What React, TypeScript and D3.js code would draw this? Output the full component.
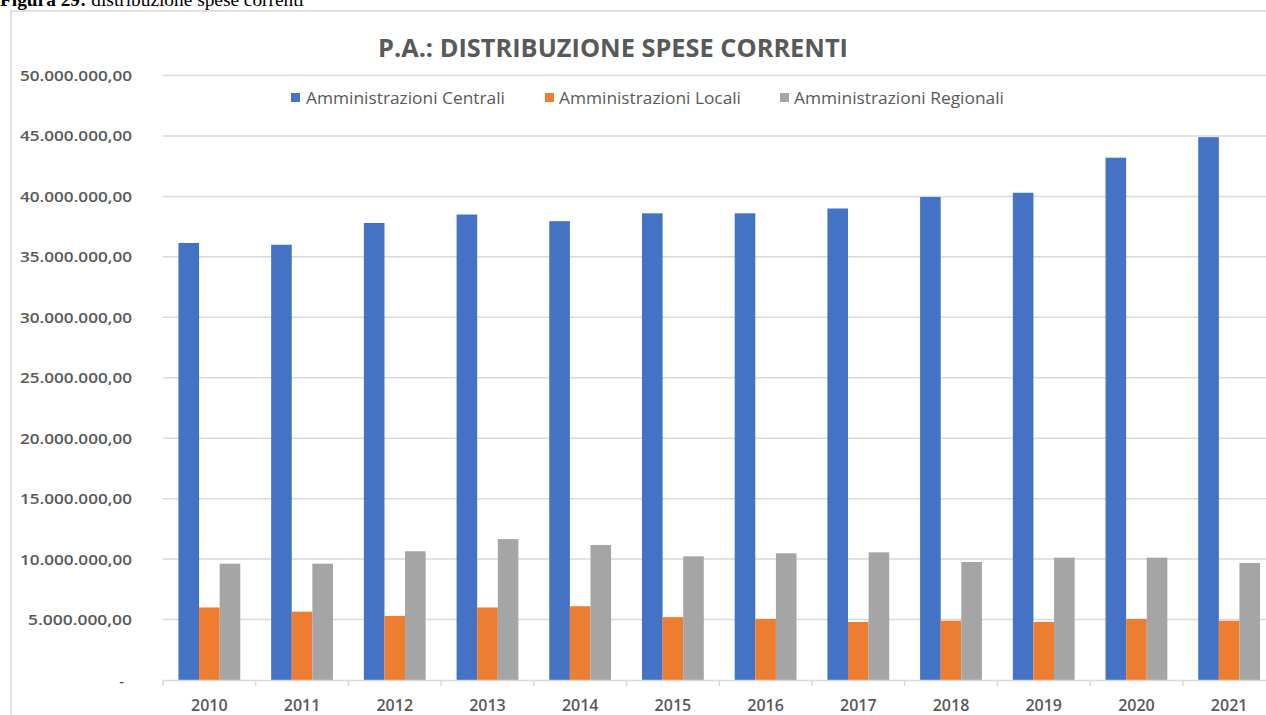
import React from 'react';
import * as d3 from 'd3';

// anni sull'asse x
const years = ['2010', '2011', '2012', '2013', '2014', '2015', '2016', '2017', '2018', '2019', '2020', '2021'];

// serie (in euro)
const seriesNames = ['Amministrazioni Centrali', 'Amministrazioni Locali', 'Amministrazioni Regionali'];
const centrali = [36.15e6, 36.0e6, 37.8e6, 38.5e6, 37.95e6, 38.6e6, 38.6e6, 39.0e6, 39.95e6, 40.3e6, 43.2e6, 44.9e6];
const locali = [6.0e6, 5.65e6, 5.3e6, 6.0e6, 6.1e6, 5.2e6, 5.05e6, 4.8e6, 4.9e6, 4.8e6, 5.05e6, 4.9e6];
const regionali = [9.62e6, 9.62e6, 10.65e6, 11.65e6, 11.17e6, 10.23e6, 10.48e6, 10.56e6, 9.76e6, 10.12e6, 10.12e6, 9.68e6];
const colors = ['#4472C4', '#ED7D31', '#A5A5A5'];

// tick dell'asse y
const yTicks = [0, 5e6, 10e6, 15e6, 20e6, 25e6, 30e6, 35e6, 40e6, 45e6, 50e6];

const W = 1266;
const H = 715;
const plotLeft = 163;
const plotRight = 1275.5;
const plotTop = 75.5;
const plotBottom = 680;
const textColor = '#595959';
const gridColor = '#d9d9d9';
const font = '"Open Sans", "Noto Sans", sans-serif';

const itLocale = d3.formatLocale({ decimal: ',', thousands: '.', grouping: [3], currency: ['', ''] });
const fmt = itLocale.format(',.2f');

const App = () => {
    const data = [centrali, locali, regionali];

    const x = d3.scaleBand<string>().domain(years).range([plotLeft, plotRight]).padding(0);
    const y = d3.scaleLinear().domain([0, 50e6]).range([plotBottom, plotTop]);
    // gap width 150% come in Excel
    const inner = d3.scaleBand<number>()
        .domain([0, 1, 2])
        .range([0, x.bandwidth()])
        .paddingInner(0)
        .paddingOuter(0.75);

    // legenda (posizioni prese dall'immagine)
    const legend = [
        { sx: 291, tx: 306, tw: 199 },
        { sx: 545, tx: 559, tw: 182 },
        { sx: 780, tx: 794, tw: 210 },
    ];

    return (
        <svg width={W} height={H} style={{ position: 'absolute', left: 0, top: 0, background: '#fff' }}>
            {/* didascalia */}
            <text x={0} y={6} fontFamily='"Liberation Serif", "Times New Roman", serif' fontSize={19.5} fill="#000"
                textLength={304} lengthAdjust="spacingAndGlyphs">
                <tspan fontWeight="bold">Figura 29:</tspan>
                <tspan> distribuzione spese correnti</tspan>
            </text>

            {/* cornice del grafico */}
            <rect x={11} y={11} width={W + 20} height={H + 20} fill="#fff" stroke={gridColor} strokeWidth={1.5} />

            {/* titolo */}
            <text x={378} y={57} fontFamily={font} fontWeight="bold" fontSize={25} fill={textColor}
                textLength={470} lengthAdjust="spacingAndGlyphs">
                P.A.: DISTRIBUZIONE SPESE CORRENTI
            </text>

            {/* griglia e etichette y */}
            {yTicks.map((t) => (
                <g key={t}>
                    {t > 0 && (
                        <line x1={plotLeft} x2={W + 20} y1={y(t)} y2={y(t)} stroke={gridColor} strokeWidth={1.5} />
                    )}
                    <text x={t === 0 ? 124 : 132} y={y(t) + 5.5} textAnchor="end" fontFamily={font}
                        fontWeight={600} fontSize={15} fill={textColor}
                        textLength={t === 0 ? undefined : (t >= 10e6 ? 112 : 104)} lengthAdjust="spacingAndGlyphs">
                        {t === 0 ? '-' : fmt(t)}
                    </text>
                </g>
            ))}

            {/* barre */}
            {years.map((yr, i) => (
                <g key={yr} transform={`translate(${x(yr)},0)`}>
                    {data.map((s, k) => (
                        <rect key={k} x={inner(k)} y={y(s[i])} width={inner.bandwidth()}
                            height={plotBottom - y(s[i])} fill={colors[k]} />
                    ))}
                </g>
            ))}

            {/* asse x */}
            <line x1={plotLeft} x2={W + 20} y1={plotBottom + 0.5} y2={plotBottom + 0.5} stroke={gridColor} strokeWidth={1.5} />
            {years.map((yr) => (
                <line key={'t' + yr} x1={x(yr)} x2={x(yr)} y1={plotBottom} y2={plotBottom + 6} stroke={gridColor} strokeWidth={1.5} />
            ))}
            {years.map((yr) => (
                <text key={'l' + yr} x={(x(yr) as number) + x.bandwidth() / 2} y={711} textAnchor="middle"
                    fontFamily={font} fontWeight={600} fontSize={16} fill={textColor}>
                    {yr}
                </text>
            ))}

            {/* legenda */}
            {seriesNames.map((n, k) => (
                <g key={n}>
                    <rect x={legend[k].sx} y={93} width={9} height={9} fill={colors[k]} />
                    <text x={legend[k].tx} y={104} fontFamily={font} fontSize={15.5} fontWeight={500} fill={textColor}
                        textLength={legend[k].tw} lengthAdjust="spacingAndGlyphs">
                        {n}
                    </text>
                </g>
            ))}
        </svg>
    );
};

export default App;
